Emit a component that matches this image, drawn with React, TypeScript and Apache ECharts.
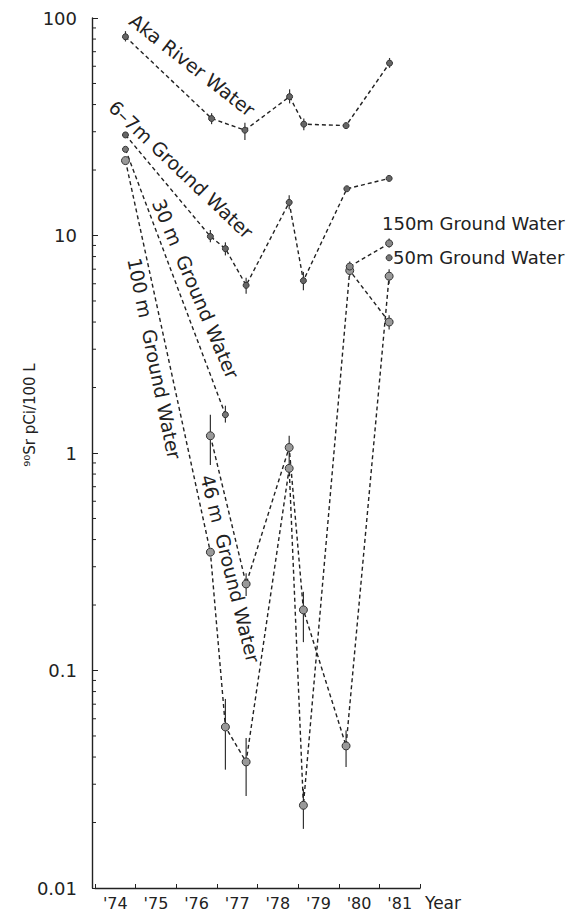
import React, { useEffect, useRef } from "react";
import * as echarts from "echarts";

// Year positions are decimal years; values are 90Sr activity in pCi/100 L.
const akaRiver: [number, number][] = [
  [1974.75, 82], [1976.87, 34.5], [1977.69, 30.5], [1978.79, 43.5],
  [1979.14, 32.5], [1980.18, 32], [1981.25, 62],
];
const ground6to7m: [number, number][] = [
  [1974.75, 29], [1976.84, 9.9], [1977.21, 8.7], [1977.72, 5.9],
  [1978.78, 14.2], [1979.13, 6.2], [1980.2, 16.4], [1981.24, 18.3],
];
const ground30m: [number, number][] = [
  [1974.75, 24.9], [1977.21, 1.5],
];
const ground46m: [number, number][] = [
  [1976.84, 1.2], [1977.72, 0.25], [1978.78, 1.06], [1979.13, 0.19],
  [1980.18, 0.045], [1981.24, 6.5],
];
const ground100m: [number, number][] = [
  [1974.75, 22.1], [1976.84, 0.35], [1977.21, 0.055], [1977.72, 0.038],
  [1978.78, 0.85], [1979.13, 0.024], [1980.27, 6.9], [1981.24, 4.0],
];
const ground150m: [number, number][] = [
  [1980.27, 7.2], [1981.24, 9.2],
];
const ground50m: [number, number][] = [
  [1981.24, 7.9],
];

// [year, low, high]
const errorBars: [number, number, number][] = [
  [1974.75, 78, 87], [1976.87, 32.5, 36.5], [1977.69, 27.5, 33], [1978.79, 40.5, 47],
  [1979.14, 30.5, 34.5], [1981.25, 59, 65.5],
  [1976.84, 9.3, 10.6], [1977.21, 8.1, 9.3], [1977.72, 5.4, 6.4], [1978.78, 13.2, 15.3],
  [1979.13, 5.6, 6.8],
  [1977.21, 1.38, 1.65],
  [1976.84, 0.88, 1.5], [1977.72, 0.22, 0.28], [1978.78, 0.78, 1.2],
  [1979.13, 0.135, 0.23], [1980.18, 0.036, 0.053],
  [1977.21, 0.035, 0.074], [1977.72, 0.0265, 0.049], [1979.13, 0.0187, 0.0285],
  [1980.27, 6.5, 7.6], [1981.24, 8.8, 9.7], [1981.24, 6.0, 7.0], [1981.24, 3.7, 4.3],
];

const yearLabels = ["'74", "'75", "'76", "'77", "'78", "'79", "'80", "'81"];
const yTickLabels = ["0.01", "0.1", "1", "10", "100"];
const minorMultipliers = [2, 3, 4, 5, 6, 7, 8, 9];
const decades = [0.01, 0.1, 1, 10];

const X_MIN = 1974;
const X_MAX = 1982;
const FONT = "DejaVu Sans";
const INK = "#222";

const deg = (d: number) => (d * Math.PI) / 180;

function lineSeries(name: string, data: [number, number][], size: number, fill: string) {
  return {
    name,
    type: "line",
    data,
    symbol: "circle",
    symbolSize: size,
    itemStyle: { color: fill, borderColor: "#333", borderWidth: 1 },
    lineStyle: { color: INK, width: 1.4, type: [4, 3] },
    z: 3,
  };
}

function rotatedLabel(text: string, x: number, y: number, angle: number, size = 19) {
  return {
    type: "text",
    x,
    y,
    rotation: deg(angle),
    style: {
      text,
      fill: INK,
      fontSize: size,
      fontFamily: FONT,
      align: "left",
      textAlign: "left",
      verticalAlign: "middle",
      textVerticalAlign: "middle",
    },
  };
}

export default function App() {
  const ref = useRef<HTMLDivElement>(null);

  useEffect(() => {
    if (!ref.current) return;
    const chart = echarts.init(ref.current, undefined, { renderer: "svg" });

    const minorTicks: [number, number][] = [];
    decades.forEach((d) => minorMultipliers.forEach((m) => minorTicks.push([X_MIN, m * d])));

    chart.setOption({
      animation: false,
      backgroundColor: "#fff",
      textStyle: { fontFamily: FONT, color: INK },
      grid: { left: 95, right: 166, top: 18, bottom: 27 },
      xAxis: [
        {
          type: "value",
          min: X_MIN,
          max: X_MAX,
          interval: 1,
          position: "bottom",
          axisLine: { show: true, lineStyle: { color: INK, width: 1.4 } },
          axisTick: { show: true, inside: true, length: 4, lineStyle: { color: INK } },
          axisLabel: { show: false },
          splitLine: { show: false },
        },
        {
          type: "category",
          data: yearLabels,
          position: "bottom",
          boundaryGap: true,
          axisLine: { show: false },
          axisTick: { show: false },
          axisLabel: { color: INK, fontSize: 16, fontFamily: FONT, margin: 7 },
          splitLine: { show: false },
        },
      ],
      yAxis: {
        type: "log",
        logBase: 10,
        min: 0.01,
        max: 100,
        splitNumber: 4,
        offset: 3,
        axisLine: { show: true, lineStyle: { color: INK, width: 1.4 } },
        axisTick: { show: true, inside: true, length: 6, lineStyle: { color: INK } },
        axisLabel: {
          color: INK,
          fontSize: 18,
          fontFamily: FONT,
          margin: 15,
          formatter: (v: number) => yTickLabels[Math.round(Math.log10(v)) + 2] ?? "",
        },
        splitLine: { show: false },
      },
      series: [
        lineSeries("Aka River Water", akaRiver, 6, "#666"),
        lineSeries("6–7m Ground Water", ground6to7m, 6, "#666"),
        lineSeries("30m Ground Water", ground30m, 6, "#777"),
        lineSeries("46m Ground Water", ground46m, 8, "#999"),
        lineSeries("100m Ground Water", ground100m, 8, "#999"),
        lineSeries("150m Ground Water", ground150m, 7, "#888"),
        lineSeries("50m Ground Water", ground50m, 6, "#777"),
        {
          type: "custom",
          name: "error bars",
          data: errorBars,
          encode: { x: 0, y: [1, 2] },
          z: 2,
          renderItem: (_p: any, api: any) => {
            const top = api.coord([api.value(0), api.value(2)]);
            const bot = api.coord([api.value(0), api.value(1)]);
            return {
              type: "line",
              shape: { x1: top[0], y1: top[1], x2: bot[0], y2: bot[1] },
              style: { stroke: "#333", lineWidth: 1.2 },
            };
          },
        },
        {
          type: "custom",
          name: "minor ticks",
          data: minorTicks,
          encode: { x: 0, y: 1 },
          silent: true,
          renderItem: (_p: any, api: any) => {
            const p = api.coord([api.value(0), api.value(1)]);
            return {
              type: "line",
              shape: { x1: p[0] - 3, y1: p[1], x2: p[0] + 1, y2: p[1] },
              style: { stroke: INK, lineWidth: 1 },
            };
          },
        },
      ],
      graphic: [
        rotatedLabel("Aka River Water", 132, 18, -38),
        rotatedLabel("6–7m Ground Water", 112, 104, -43.5),
        rotatedLabel("30 m  Ground Water", 158, 200, -67),
        rotatedLabel("100 m  Ground Water", 134, 258, -78.5),
        rotatedLabel("46 m  Ground Water", 207, 475, -76),
        rotatedLabel("150m Ground Water", 382, 223, 0, 18),
        rotatedLabel("50m Ground Water", 393, 257, 0, 18),
        rotatedLabel("Year", 425, 903, 0, 17),
        {
          type: "text",
          x: 30,
          y: 415,
          rotation: deg(90),
          style: {
            text: "⁹⁰Sr pCi/100 L",
            fill: INK,
            fontSize: 15,
            fontFamily: FONT,
            align: "center",
            textAlign: "center",
            verticalAlign: "middle",
            textVerticalAlign: "middle",
          },
        },
      ],
    });

    return () => chart.dispose();
  }, []);

  return (
    <div
      ref={ref}
      style={{ position: "absolute", left: 0, top: 0, width: 586, height: 915 }}
    />
  );
}
